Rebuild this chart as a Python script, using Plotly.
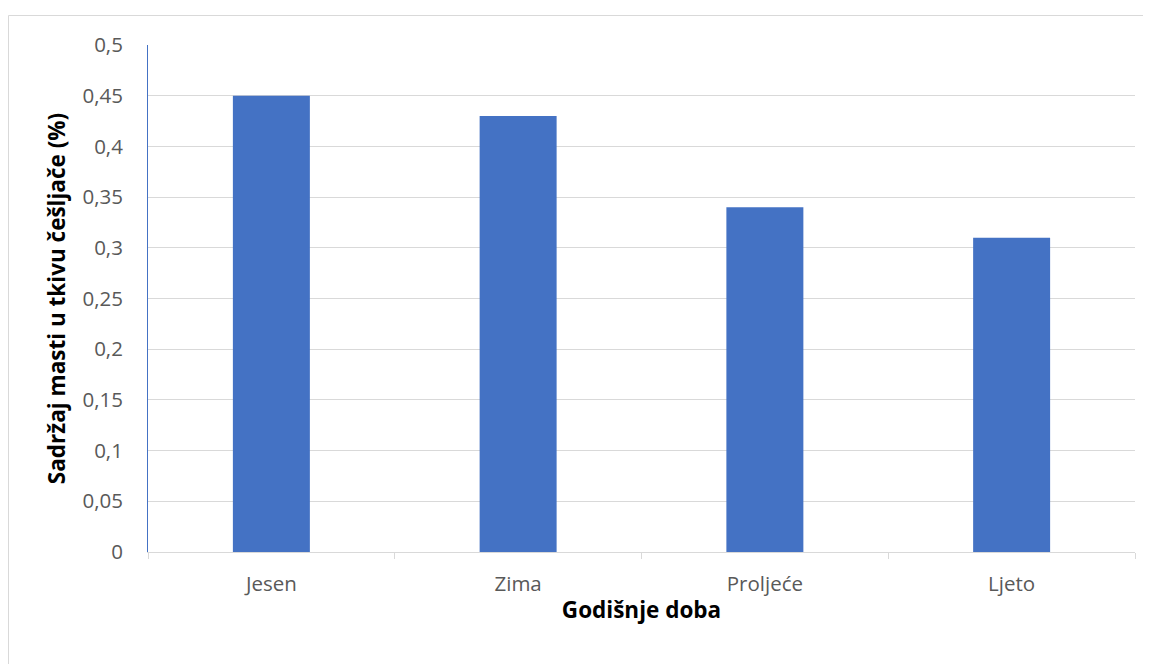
import plotly.graph_objects as go

categories = ["Jesen", "Zima", "Proljeće", "Ljeto"]
values = [0.45, 0.43, 0.34, 0.31]

OFF = 8  # page body offset
W, H = 1151 - OFF, 664 - OFF
L, T = 148 - OFF, 45 - OFF
pw, ph = 987, 507
R = W - L - pw
B = H - T - ph

def px(x):
    return (x - OFF - L) / pw

def py(y):
    return (T + ph - (y - OFF)) / ph

fig = go.Figure(go.Bar(x=categories, y=values, marker_color="#4472C4",
                       marker_line_width=0))

fig.update_layout(
    width=W, height=H,
    margin=dict(l=L, r=R, t=T, b=B),
    paper_bgcolor="white", plot_bgcolor="white",
    separators=", ",
    bargap=0.688,
    font=dict(family="Open Sans", color="#595959", size=20),
    showlegend=False,
    shapes=[dict(type="rect", xref="paper", yref="paper",
                 x0=px(8.5), x1=px(1170), y0=py(690), y1=py(15.5),
                 line=dict(color="#D9D9D9", width=1), layer="below")],
)
fig.update_yaxes(range=[0, 0.5], dtick=0.05, showgrid=True, gridcolor="#D9D9D9",
                 gridwidth=1, zeroline=False, showline=True, linecolor="#4472C4",
                 linewidth=1, ticks="", ticklabelstandoff=20,
                 tickfont=dict(size=20.5, color="#595959"),
                 title=dict(text="Sadržaj masti u tkivu češljače (%)",
                            font=dict(size=22.5, color="black", weight="bold"),
                            standoff=10))
fig.update_xaxes(showgrid=False, showline=True, linecolor="#D9D9D9", linewidth=1,
                 ticks="outside", tickson="boundaries", ticklen=6, tickcolor="#D9D9D9",
                 ticklabelstandoff=13,
                 tickfont=dict(size=20.5, color="#595959"),
                 title=dict(text="Godišnje doba",
                            font=dict(size=22.5, color="black", weight="bold"),
                            standoff=6))

fig.write_html("out.html")
